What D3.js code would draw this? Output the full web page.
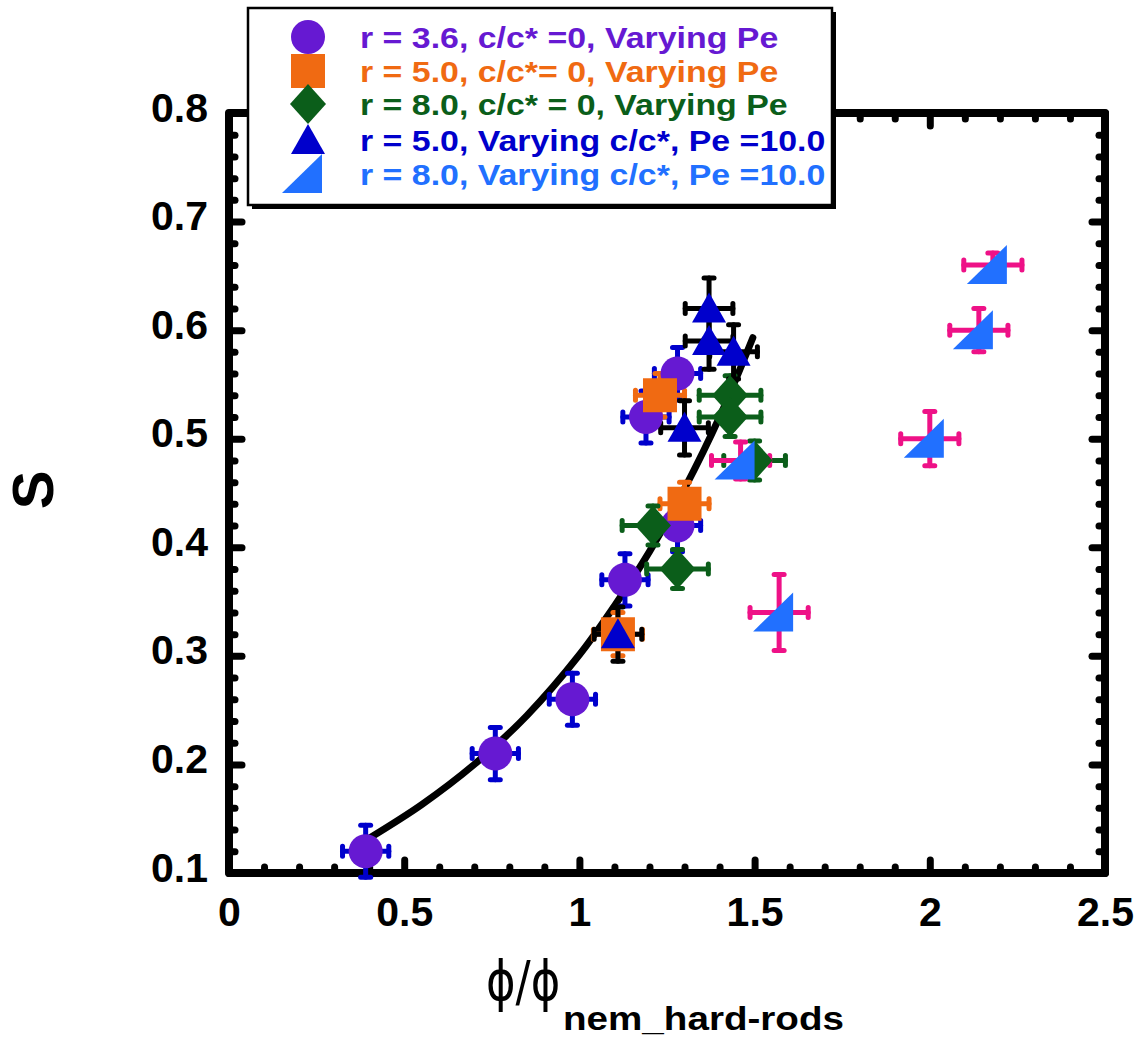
<!DOCTYPE html>
<html>
<head>
<meta charset="utf-8">
<script src="https://cdn.jsdelivr.net/npm/d3@7"></script>
<style>
  body { margin: 0; background: #fff; }
  svg { display: block; font-family: "Liberation Sans", Arial, sans-serif; font-weight: bold; }
</style>
</head>
<body>
<svg width="1143" height="1040"></svg>
<script>
// values
var circX = [0.39, 0.76, 0.98, 1.13, 1.19, 1.28, 1.28];
var circS = [0.12, 0.21, 0.26, 0.37, 0.52, 0.42, 0.56];
var circXErr = [0.066, 0.066, 0.066, 0.066, 0.066, 0.066, 0.066];
var circSErr = [0.024, 0.024, 0.024, 0.024, 0.024, 0.024, 0.024];

var sqX = [1.11, 1.23, 1.30];
var sqS = [0.32, 0.54, 0.44];
var sqXErr = [0.07, 0.07, 0.07];
var sqSErr = [0.02, 0.02, 0.02];

var diaX = [1.21, 1.28, 1.43, 1.43, 1.50];
var diaS = [0.42, 0.38, 0.54, 0.52, 0.48];
var diaXErr = [0.088, 0.088, 0.088, 0.088, 0.088];
var diaSErr = [0.018, 0.018, 0.018, 0.018, 0.018];

var triX = [1.11, 1.30, 1.37, 1.37, 1.44];
var triS = [0.32, 0.51, 0.59, 0.62, 0.58];
var triXErr = [0.068, 0.068, 0.068, 0.068, 0.068];
var triSErr = [0.025, 0.025, 0.026, 0.028, 0.025];

var halfX = [1.46, 1.57, 2.00, 2.14, 2.18];
var halfS = [0.48, 0.34, 0.50, 0.60, 0.66];
var halfXErr = [0.083, 0.083, 0.083, 0.083, 0.083];
var halfSErr = [0.017, 0.035, 0.025, 0.02, 0.011];

// fitted guide curve
var fitX = [0.40, 0.55, 0.70, 0.85, 1.00, 1.10, 1.20, 1.30, 1.40, 1.495];
var fitS = [0.132, 0.163, 0.200, 0.245, 0.301, 0.346, 0.396, 0.454, 0.520, 0.593];

var legendLabels = [
  "r = 3.6, c/c* =0, Varying Pe",
  "r = 5.0, c/c*= 0, Varying Pe",
  "r = 8.0, c/c* = 0, Varying Pe",
  "r = 5.0, Varying c/c*, Pe =10.0",
  "r = 8.0, Varying c/c*, Pe =10.0"
];

var xTicks = [0, 0.5, 1, 1.5, 2, 2.5];
var yTicks = [0.1, 0.2, 0.3, 0.4, 0.5, 0.6, 0.7, 0.8];

var purple = "#6619d2", orange = "#f06a12", green = "#0b5e1a",
  blue = "#0000cc", lightBlue = "#2170ff", pink = "#ee1187";

function pts(xs, ss, xe, se) {
  return xs.map(function (x, i) { return { x: x, s: ss[i], xe: xe[i], se: se[i] }; });
}

var series = [
  { label: legendLabels[0], shape: "circle", fill: purple, bar: blue, data: pts(circX, circS, circXErr, circSErr) },
  { label: legendLabels[1], shape: "square", fill: orange, bar: orange, data: pts(sqX, sqS, sqXErr, sqSErr) },
  { label: legendLabels[2], shape: "diamond", fill: green, bar: green, data: pts(diaX, diaS, diaXErr, diaSErr) },
  { label: legendLabels[3], shape: "triangle", fill: blue, bar: "#000", data: pts(triX, triS, triXErr, triSErr) },
  { label: legendLabels[4], shape: "half", fill: lightBlue, bar: pink, data: pts(halfX, halfS, halfXErr, halfSErr) }
];

function shapePath(kind) {
  if (kind == "circle") return "M-17,0A17,17 0 1,0 17,0A17,17 0 1,0 -17,0Z";
  if (kind == "square") return "M-17,-17H17V17H-17Z";
  if (kind == "diamond") return "M0,-20L18,0L0,20L-18,0Z";
  if (kind == "triangle") return "M0,-16L17,14L-17,14Z";
  return "M-26,19L14,19L14,-20Z";
}

var svg = d3.select("svg");

var x = d3.scaleLinear().domain([0, 2.5]).range([229, 1105]);
var y = d3.scaleLinear().domain([0.1, 0.8]).range([873, 113]);

// minor ticks
var xMinor = d3.range(1, 25).map(function (i) { return i / 10; }).filter(function (v) { return Math.abs(v * 2 - Math.round(v * 2)) > 1e-6; });
var yMinor = d3.range(6, 40).map(function (i) { return i / 50; }).filter(function (v) { return Math.abs(v * 10 - Math.round(v * 10)) > 1e-6; });

function styleAxis(g) {
  g.select(".domain").remove();
  g.selectAll(".tick line").attr("stroke", "#000").attr("stroke-width", 7).attr("stroke-linecap", "round");
  g.attr("font-family", null).attr("font-size", 41);
}

var axes = svg.append("g");
axes.append("g").attr("transform", "translate(0,873)")
  .call(d3.axisBottom(x).tickValues(xMinor).tickSize(-6).tickFormat("")).call(styleAxis);
axes.append("g").attr("transform", "translate(0,113)")
  .call(d3.axisTop(x).tickValues(xMinor).tickSize(-6).tickFormat("")).call(styleAxis);
axes.append("g").attr("transform", "translate(229,0)")
  .call(d3.axisLeft(y).tickValues(yMinor).tickSize(-6).tickFormat("")).call(styleAxis);
axes.append("g").attr("transform", "translate(1105,0)")
  .call(d3.axisRight(y).tickValues(yMinor).tickSize(-6).tickFormat("")).call(styleAxis);

var xAxis = axes.append("g").attr("transform", "translate(0,873)")
  .call(d3.axisBottom(x).tickValues(xTicks).tickSize(-13).tickFormat(d3.format("~g"))).call(styleAxis);
xAxis.selectAll("text").attr("y", 53).attr("dy", 0).attr("fill", "#000");

var yAxis = axes.append("g").attr("transform", "translate(229,0)")
  .call(d3.axisLeft(y).tickValues(yTicks).tickSize(-13).tickFormat(d3.format(".1f"))).call(styleAxis);
yAxis.selectAll("text").attr("x", -21).attr("y", 8).attr("dy", 0).attr("fill", "#000");

axes.append("g").attr("transform", "translate(0,113)")
  .call(d3.axisTop(x).tickValues(xTicks).tickSize(-13).tickFormat("")).call(styleAxis);
axes.append("g").attr("transform", "translate(1105,0)")
  .call(d3.axisRight(y).tickValues(yTicks).tickSize(-13).tickFormat("")).call(styleAxis);

// frame
svg.append("rect")
  .attr("x", x(0)).attr("y", y(0.8))
  .attr("width", x(2.5) - x(0)).attr("height", y(0.1) - y(0.8))
  .attr("fill", "none").attr("stroke", "#000").attr("stroke-width", 8)
  .attr("stroke-linejoin", "round");

// guide curve
var line = d3.line()
  .x(function (d) { return x(d[0]); })
  .y(function (d) { return y(d[1]); })
  .curve(d3.curveCatmullRom);

svg.append("path")
  .datum(fitX.map(function (v, i) { return [v, fitS[i]]; }))
  .attr("d", line)
  .attr("fill", "none").attr("stroke", "#000").attr("stroke-width", 7)
  .attr("stroke-linecap", "round");

// error bars first, all series, then markers on top
var bars = svg.append("g").attr("stroke-width", 5).attr("stroke-linecap", "round");
series.forEach(function (sr) {
  var g = bars.append("g").attr("stroke", sr.bar);
  sr.data.forEach(function (d) {
    var cx = x(d.x), cy = y(d.s);
    var x0 = x(d.x - d.xe), x1 = x(d.x + d.xe), y0 = y(d.s + d.se), y1 = y(d.s - d.se);
    g.append("line").attr("x1", x0).attr("x2", x1).attr("y1", cy).attr("y2", cy);
    g.append("line").attr("x1", x0).attr("x2", x0).attr("y1", cy - 5).attr("y2", cy + 5);
    g.append("line").attr("x1", x1).attr("x2", x1).attr("y1", cy - 5).attr("y2", cy + 5);
    g.append("line").attr("x1", cx).attr("x2", cx).attr("y1", y0).attr("y2", y1);
    g.append("line").attr("x1", cx - 5).attr("x2", cx + 5).attr("y1", y0).attr("y2", y0);
    g.append("line").attr("x1", cx - 5).attr("x2", cx + 5).attr("y1", y1).attr("y2", y1);
  });
});

series.forEach(function (sr) {
  svg.append("g").selectAll("path")
    .data(sr.data)
    .enter().append("path")
    .attr("d", shapePath(sr.shape))
    .attr("fill", sr.fill)
    .attr("transform", function (d) { return "translate(" + x(d.x) + "," + y(d.s) + ")"; });
});

// stretched text helper (the source fonts are a bit wider than Liberation)
function wideText(parent, tx, ty, str, size, sx, color) {
  return parent.append("g")
    .attr("transform", "translate(" + tx + "," + ty + ") scale(" + sx + ",1)")
    .append("text").attr("font-size", size).attr("fill", color).text(str);
}

// legend
var legend = svg.append("g");
legend.append("rect").attr("x", 252).attr("y", 12).attr("width", 584).attr("height", 197).attr("fill", "#000");
legend.append("rect").attr("x", 248).attr("y", 8).attr("width", 584).attr("height", 197)
  .attr("fill", "#fff").attr("stroke", "#000").attr("stroke-width", 2.5);

var rowY = [37, 71, 104, 140, 174];
series.forEach(function (sr, i) {
  legend.append("path").attr("d", shapePath(sr.shape)).attr("fill", sr.fill)
    .attr("transform", "translate(308," + rowY[i] + ")");
  wideText(legend, 360, rowY[i] + 11, sr.label, 30, 1.13, sr.fill);
});

// axis titles
svg.append("text")
  .attr("transform", "translate(53,490) rotate(-90)")
  .attr("text-anchor", "middle").attr("font-size", 58).attr("fill", "#000")
  .text("S");

svg.append("g").attr("transform", "translate(486,1000) scale(0.8,1)")
  .append("text").attr("font-family", "DejaVu Sans").attr("font-weight", "normal")
  .attr("font-size", 56).attr("fill", "#000").text("ϕ/ϕ");
wideText(svg, 563, 1030, "nem_hard-rods", 33, 1.17, "#000");
</script>
</body>
</html>
